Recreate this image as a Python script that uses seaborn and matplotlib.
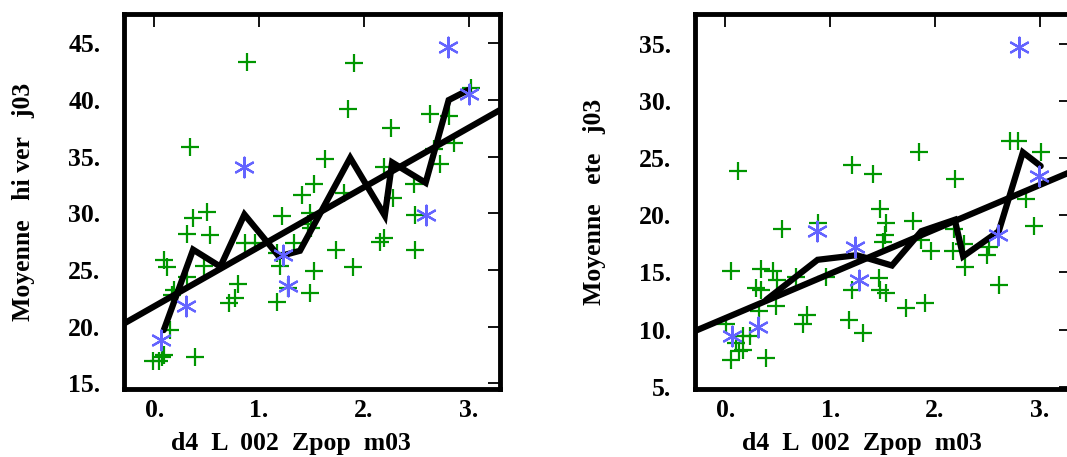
import matplotlib
matplotlib.use('Agg')
import numpy as np
import pandas as pd
import seaborn as sns
import matplotlib.pyplot as plt
from matplotlib.ticker import FuncFormatter

sns.set_style('white')
plt.rcParams['font.family'] = ['Liberation Serif', 'DejaVu Serif']
plt.rcParams['font.weight'] = 'bold'
plt.rcParams['text.color'] = 'black'
plt.rcParams['axes.labelcolor'] = 'black'

# ---- data ----
xlabel = 'd4  L  002  Zpop  m03'

# left panel : Moyenne hiver j03
hiv_green_x = [0.88, 1.91, 1.85, 2.26, 2.63, 2.81, 3.02, 0.34, 2.86, 2.67, 1.63, 2.73, 2.19, 1.52,
               1.41, 1.81, 2.48, 2.28, 0.37, 0.50, 1.22, 1.49, 1.47, 2.49, 0.31, 0.53, 1.50, 0.87,
               0.96, 1.33, 1.73, 2.49, 2.19, 2.15, 0.09, 0.12, 0.47, 1.20, 0.31, 1.52, 1.90, 0.80,
               0.17, 0.19, 1.28, 1.49, 0.77, 0.71, 1.17, 0.15, 0.09, -0.01, 0.04, 0.07, 0.39, 1.17]
hiv_green_y = [43.4, 43.3, 39.2, 37.5, 38.8, 38.6, 41.1, 35.9, 36.2, 35.7, 34.8, 34.4, 34.1, 32.6,
               31.6, 31.8, 32.6, 31.4, 29.6, 30.1, 29.8, 30.0, 29.1, 29.9, 28.2, 28.1, 28.7, 27.4,
               27.4, 27.4, 26.8, 26.8, 27.8, 27.5, 25.9, 25.3, 25.4, 25.4, 24.4, 24.9, 25.3, 23.8,
               22.8, 23.2, 23.4, 23.0, 22.5, 22.1, 22.2, 19.7, 17.5, 17.0, 17.0, 17.3, 17.3, 26.5]
hiv_blue_x = [0.06, 0.30, 0.86, 1.23, 1.28, 2.59, 2.80, 3.00]
hiv_blue_y = [18.8, 21.8, 34.1, 26.3, 23.6, 29.9, 44.7, 40.5]
hiv_bin_x = [0.09, 0.37, 0.63, 0.86, 1.19, 1.39, 1.87, 2.20, 2.27, 2.59, 2.81, 3.00]
hiv_bin_y = [19.7, 26.8, 25.3, 29.9, 26.2, 26.7, 34.9, 29.8, 34.5, 32.7, 40.0, 40.9]
hiv_fit = (21.8, 5.25)   # intercept, slope

# right panel : Moyenne ete j03
ete_green_x = [0.12, 1.21, 1.41, 1.85, 2.19, 2.72, 2.79, 3.01, 2.87, 2.95, 0.54, 0.88, 1.48, 1.53,
               1.79, 1.52, 1.50, 1.87, 1.96, 2.17, 2.18, 2.28, 2.52, 2.50, 2.29, 2.61, 1.47, 1.48,
               1.53, 1.21, 1.72, 1.91, 1.18, 1.31, 0.74, 0.78, 0.96, 0.67, 0.45, 0.49, 0.29, 0.34,
               0.34, 0.05, 0.48, 0.32, 0.01, 0.23, 0.17, 0.10, 0.13, 0.17, 0.05, 0.39]
ete_green_y = [23.9, 24.4, 23.6, 25.5, 23.2, 26.5, 26.5, 25.5, 21.4, 19.1, 18.8, 19.3, 20.5, 19.3,
               19.5, 18.3, 17.7, 17.8, 16.9, 16.9, 18.8, 17.5, 17.2, 16.5, 15.5, 13.9, 14.5, 13.5,
               13.2, 13.5, 11.9, 12.3, 10.8, 9.7, 10.5, 11.3, 14.6, 14.6, 15.1, 14.3, 13.6, 13.5,
               15.3, 15.1, 12.1, 11.6, 10.5, 9.4, 9.4, 8.8, 8.1, 8.2, 7.3, 7.5]
ete_blue_x = [0.06, 0.31, 0.87, 1.24, 1.28, 2.60, 2.80, 2.99]
ete_blue_y = [9.4, 10.2, 18.6, 17.2, 14.3, 18.3, 34.7, 23.4]
ete_bin_x = [0.39, 0.88, 1.25, 1.37, 1.59, 1.87, 2.19, 2.27, 2.61, 2.84, 3.01]
ete_bin_y = [12.6, 16.1, 16.5, 16.2, 15.6, 18.6, 19.6, 16.4, 18.6, 25.5, 24.3]
ete_fit = (11.0, 3.88)

xticks = [0, 1, 2, 3]
hiv_yticks = [15, 20, 25, 30, 35, 40, 45]
ete_yticks = [5, 10, 15, 20, 25, 30, 35]

green = '#009600'
blue = '#6464ff'


def panel(ax, gx, gy, bx, by, mx, my, fit, yticks, ylim, ylabel):
    sns.scatterplot(x=gx, y=gy, marker='+', s=150, color=green, linewidth=1.6, ax=ax, zorder=2)
    ax.axline((0, fit[0]), slope=fit[1], color='k', lw=4.5, zorder=3)
    sns.lineplot(x=mx, y=my, sort=False, color='k', lw=4.5, ax=ax, zorder=3,
                 solid_joinstyle='miter')
    sns.scatterplot(x=bx, y=by, marker=(6, 2, 0), s=200, color=blue, linewidth=1.6, ax=ax, zorder=4)
    ax.set_xlim(-0.29, 3.30)
    ax.set_ylim(*ylim)
    ax.set_xticks(xticks)
    ax.set_yticks(yticks)
    fmt = FuncFormatter(lambda v, p: '%d.' % v)
    ax.xaxis.set_major_formatter(fmt)
    ax.yaxis.set_major_formatter(fmt)
    ax.tick_params(direction='in', length=9, width=1.3, top=True, right=True,
                   labelsize=18.5, colors='k')
    ax.tick_params(axis='y', pad=17)
    ax.tick_params(axis='x', pad=7)
    for s in ax.spines.values():
        s.set_linewidth(3.5)
        s.set_color('k')
    ax.set_xlabel(xlabel, fontsize=18.5, fontweight='bold')
    ax.set_ylabel(ylabel, fontsize=18.5, fontweight='bold')
    ax.xaxis.set_label_coords(0.445, -0.115)
    ax.yaxis.set_label_coords(-0.237, 0.5)


fig = plt.figure(figsize=(10.67, 4.57), dpi=100)
ax1 = fig.add_axes([0.1162, 0.1488, 0.3524, 0.8206])
ax2 = fig.add_axes([0.6514, 0.1488, 0.3524, 0.8206])

panel(ax1, hiv_green_x, hiv_green_y, hiv_blue_x, hiv_blue_y, hiv_bin_x, hiv_bin_y,
      hiv_fit, hiv_yticks, (14.5, 47.6), 'Moyenne   hi ver   j03')
panel(ax2, ete_green_x, ete_green_y, ete_blue_x, ete_blue_y, ete_bin_x, ete_bin_y,
      ete_fit, ete_yticks, (4.8, 37.6), 'Moyenne   ete   j03')

fig.savefig('out.png', dpi=100)
